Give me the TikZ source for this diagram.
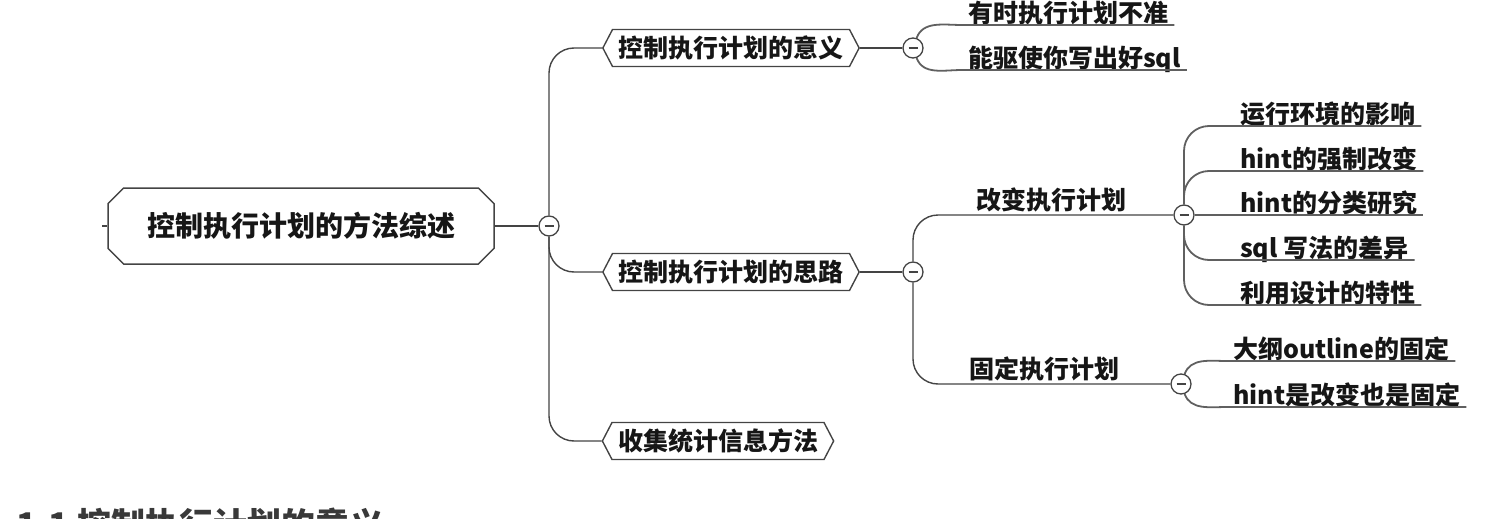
\documentclass[tikz,border=0pt]{standalone}
\usepackage{fontspec}
\setmainfont{Noto Sans CJK SC}
\usetikzlibrary{shapes.misc,shapes.symbols}
\definecolor{ln}{HTML}{444444}
\definecolor{tx}{HTML}{161616}
\begin{document}
\begin{tikzpicture}[x=1pt,y=-1pt,
  conn/.style={draw=ln,line width=1.4pt,rounded corners=25pt},
  uline/.style={draw=ln!85,line width=1.8pt},
  rootbox/.style={chamfered rectangle,chamfered rectangle xsep=12pt,draw=ln,line width=1.5pt,
    minimum width=386pt,minimum height=76pt,inner sep=0pt,font=\fontsize{28}{30}\selectfont\bfseries,text=tx},
  hexbox/.style={signal,signal to=west and east,signal pointer angle=125,draw=ln,line width=1.4pt,
    minimum height=37pt,inner xsep=6pt,inner ysep=0pt,font=\fontsize{25}{27}\selectfont\bfseries,text=tx},
  knob/.style={circle,draw=ln,line width=1.3pt,fill=white,minimum size=20pt,inner sep=0pt,
    path picture={\draw[ln,line width=1.3pt] ([xshift=-4.5pt]path picture bounding box.center) -- ([xshift=4.5pt]path picture bounding box.center);}},
  leaf/.style={anchor=south west,inner xsep=6pt,inner ysep=1pt,text height=0.9em,text depth=0.15em,
    font=\fontsize{25}{27}\selectfont\bfseries,text=tx},
  lbl/.style={anchor=base,inner sep=0pt,font=\fontsize{25}{27}\selectfont\bfseries,text=tx}]
\clip (0,0) rectangle (1494,519);
\useasboundingbox (0,0) rectangle (1494,519);
% root
\node[rootbox] (root) at (301,226) {控制执行计划的方法综述};
\coordinate (tick) at (102,226);
\draw[ln,line width=1.4pt] (tick) -- (root.west);
\node[knob] (cA) at (549,226) {};
\draw[conn] (root.east) -- (cA.west);
% level 1
\node[hexbox] (n1) at (731,48) {控制执行计划的意义};
\node[hexbox] (n2) at (731,272) {控制执行计划的思路};
\node[hexbox] (n3) at (718,441) {收集统计信息方法};
\draw[conn] (cA.north) |- (n1.west);
\draw[conn] (cA.south) |- (n2.west);
\draw[conn] (cA.south) |- (n3.west);
% branch 1
\node[knob] (c1) at (913,48) {};
\draw[conn] (n1.east) -- (c1.west);
\node[leaf] (l11) at (962,25) {有时执行计划不准};
\node[leaf] (l12) at (962,70) {能驱使你写出好sql};
\draw[uline] (c1.70) to[out=70,in=180] (l11.south west) -- (l11.south east);
\draw[uline] (c1.-70) to[out=-70,in=180] (l12.south west) -- (l12.south east);
% branch 2
\node[knob] (cB) at (913,272) {};
\draw[conn] (n2.east) -- (cB.west);
\node[knob] (cC) at (1184,215) {};
\node[knob] (cD) at (1181,384) {};
\draw[conn] (cB.north) |- (cC.west);
\draw[conn] (cB.south) |- (cD.west);
\node[lbl] (chg) at (1051,209) {改变执行计划};
\node[lbl] (fix) at (1044,378) {固定执行计划};
% change leaves
\node[leaf] (lc1) at (1234,126) {运行环境的影响};
\node[leaf] (lc2) at (1234,171) {hint的强制改变};
\node[leaf] (lc3) at (1234,215) {hint的分类研究};
\node[leaf] (lc4) at (1234,260) {sql 写法的差异};
\node[leaf] (lc5) at (1234,305) {利用设计的特性};
\draw[uline,rounded corners=25pt] (cC.north) |- (lc1.south west) -- (lc1.south east);
\draw[uline,rounded corners=25pt] (cC.north) |- (lc2.south west) -- (lc2.south east);
\draw[uline] (cC.east) -- (lc3.south east);
\draw[uline,rounded corners=25pt] (cC.south) |- (lc4.south west) -- (lc4.south east);
\draw[uline,rounded corners=25pt] (cC.south) |- (lc5.south west) -- (lc5.south east);
% fix leaves
\node[leaf] (ld1) at (1227,361) {大纲outline的固定};
\node[leaf] (ld2) at (1227,407) {hint是改变也是固定};
\draw[uline] (cD.70) to[out=70,in=180] (ld1.south west) -- (ld1.south east);
\draw[uline] (cD.-70) to[out=-70,in=180] (ld2.south west) -- (ld2.south east);
% heading cut at bottom
\node[anchor=base west,inner sep=0pt,font=\fontsize{34}{36}\selectfont\bfseries,text=tx!85] (hd) at (16,537) {1.1 控制执行计划的意义};
\end{tikzpicture}
\end{document}
